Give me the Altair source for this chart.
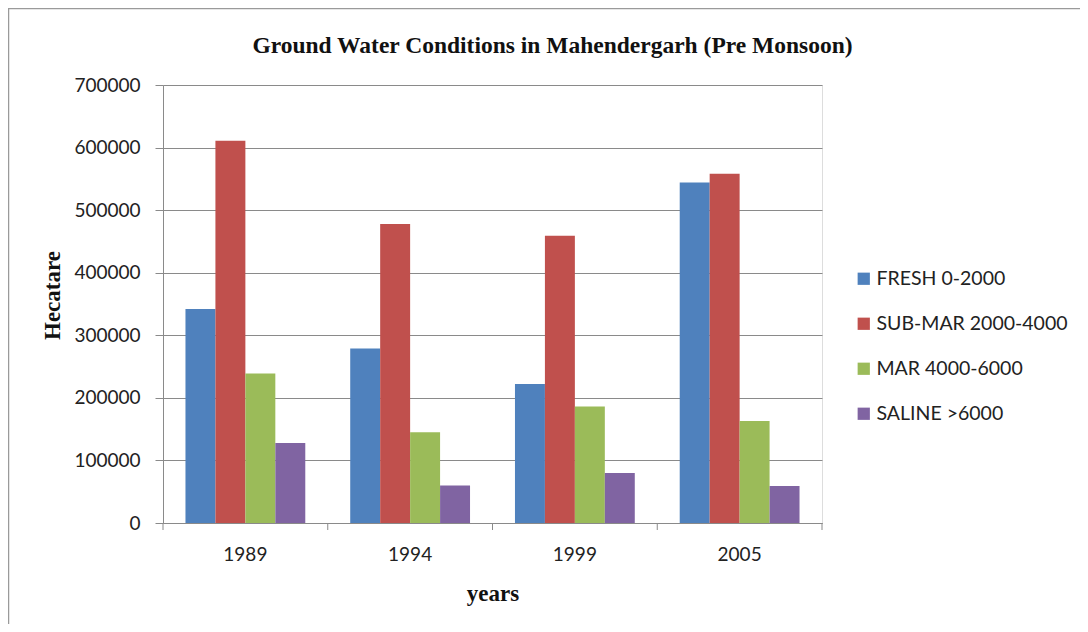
import altair as alt
import pandas as pd

years = ["1989", "1994", "1999", "2005"]
series = ["FRESH 0-2000", "SUB-MAR 2000-4000", "MAR 4000-6000", "SALINE >6000"]
fresh = [342000, 279000, 222000, 544000]
submar = [611000, 478000, 459000, 558000]
mar = [239000, 145000, 186000, 163000]
saline = [128000, 60000, 80000, 59000]
colors = ["#4F81BD", "#C0504D", "#9BBB59", "#8064A2"]
y_ticks = [0, 100000, 200000, 300000, 400000, 500000, 600000, 700000]

rows = []
for s, vals in zip(series, [fresh, submar, mar, saline]):
    for yr, v in zip(years, vals):
        rows.append({"year": yr, "series": s, "value": v})
df = pd.DataFrame(rows)
tick_df = pd.DataFrame({"year": years})
one = pd.DataFrame({"a": [0]})

W, H = 659, 438
LABEL_FONT = "Lato"
SERIF = "Liberation Serif"
GRAY = "#8a8a8a"

xscale = alt.Scale(domain=years, paddingInner=0, paddingOuter=0)

bars = alt.Chart(df).mark_bar().encode(
    x=alt.X("year:N", scale=xscale, sort=years,
            axis=alt.Axis(title="years", labelAngle=0, ticks=False,
                          labelFont=LABEL_FONT, labelFontSize=19, labelColor="#222",
                          labelPadding=22,
                          titleFont=SERIF, titleFontSize=23, titleFontWeight="bold",
                          titleColor="#111", titleY=70, titleBaseline="middle",
                          domainColor=GRAY, grid=False)),
    xOffset=alt.XOffset("series:N", sort=series,
                        scale=alt.Scale(domain=series, paddingInner=0, paddingOuter=0.75)),
    y=alt.Y("value:Q", scale=alt.Scale(domain=[0, 700000], nice=False),
            axis=alt.Axis(values=y_ticks, format="d", title="Hecatare",
                          labelFont=LABEL_FONT, labelFontSize=19, labelColor="#222",
                          tickSize=8, tickColor=GRAY, labelPadding=15,
                          domainColor=GRAY, gridColor=GRAY, grid=True,
                          titleFont=SERIF, titleFontSize=23, titleFontWeight="bold",
                          titleColor="#111", titleX=-111, titleY=210,
                          titleBaseline="middle", titleAngle=270)),
    color=alt.Color("series:N", sort=series,
                    scale=alt.Scale(domain=series, range=colors),
                    legend=alt.Legend(title=None, orient="none", legendX=691, legendY=184,
                                      symbolType="square", symbolSize=150,
                                      symbolStrokeWidth=0, labelFont=LABEL_FONT,
                                      labelFontSize=19.5, labelColor="#222", labelLimit=400,
                                      rowPadding=24, labelOffset=3, padding=0)),
)

xticks = alt.Chart(tick_df).mark_rule(color=GRAY).encode(
    x=alt.X("year:N", scale=xscale, sort=years, bandPosition=0),
    y=alt.value(H), y2=alt.value(H + 7),
)
last_tick = alt.Chart(one).mark_rule(color=GRAY).encode(
    x=alt.value(W), y=alt.value(H), y2=alt.value(H + 7),
)
frame_top = alt.Chart(one).mark_rule(color="#9a9a9a", strokeWidth=1.5).encode(
    x=alt.value(-155), x2=alt.value(917), y=alt.value(-76.5),
)
frame_left = alt.Chart(one).mark_rule(color="#9a9a9a", strokeWidth=1.5).encode(
    x=alt.value(-154.5), y=alt.value(-77), y2=alt.value(540),
)

chart = alt.layer(bars, xticks, last_tick, frame_top, frame_left).properties(
    width=W, height=H,
    title=alt.TitleParams(text="Ground Water Conditions  in Mahendergarh (Pre Monsoon)",
                          font=SERIF, fontSize=23.5, fontWeight="bold", color="#111",
                          anchor="middle", dx=60, offset=0, baseline="alphabetic", dy=69),
    autosize=alt.AutoSizeParams(type="none"),
    padding={"left": 155, "top": 77, "right": 258, "bottom": 101},
).configure_view(stroke=None).configure(background="white")

chart.save("out.html", embed_options={"renderer": "svg", "actions": False})
